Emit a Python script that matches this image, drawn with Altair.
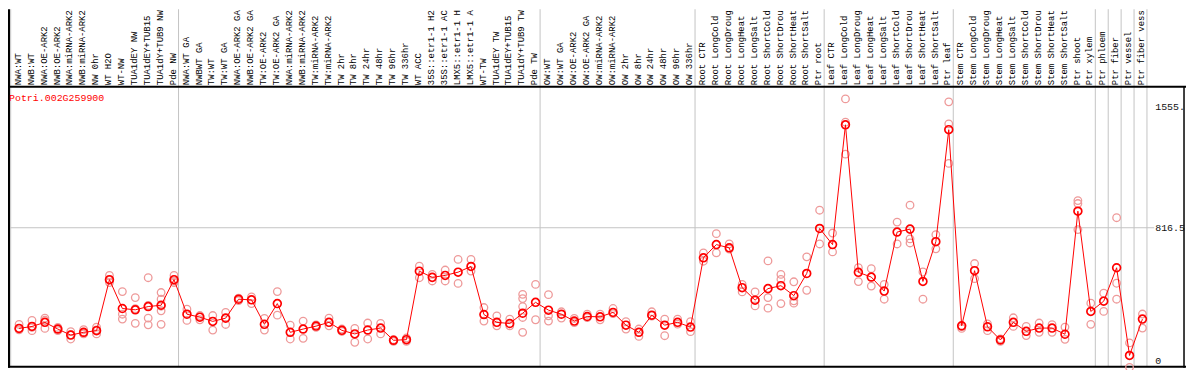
import altair as alt
import pandas as pd

labels = [
    "NWA:WT", "NWB:WT", "NWA:OE-ARK2", "NWB:OE-ARK2", "NWA:miRNA-ARK2", "NWB:miRNA-ARK2",
    "NW 0hr", "WT H2O", "WT-NW", "TUA1dEY NW", "TUA1dEY+TUB15", "TUA1dY+TUB9 NW", "Pde NW",
    "NWA:WT GA", "NWBWT GA", "TW:WT", "TW:WT GA", "NWA:OE-ARK2 GA", "NWB:OE-ARK2 GA",
    "TW:OE-ARK2", "TW:OE-ARK2 GA", "NWA:miRNA-ARK2", "NWB:miRNA-ARK2", "TW:miRNA-ARK2",
    "TW:miRNA-ARK2", "TW 2hr", "TW 8hr", "TW 24hr", "TW 48hr", "TW 96hr", "TW 336hr",
    "WT ACC", "35S::etr1-1 H2", "35S::etr1-1 AC", "LMX5::etr1-1 H", "LMX5::etr1-1 A",
    "WT-TW", "TUA1dEY TW", "TUA1dEY+TUB15", "TUA1dY+TUB9 TW", "Pde TW",
    "OW:WT", "OW:WT GA", "OW:OE-ARK2", "OW:OE-ARK2 GA", "OW:miRNA-ARK2", "OW:miRNA-ARK2",
    "OW 2hr", "OW 8hr", "OW 24hr", "OW 48hr", "OW 96hr", "OW 336hr",
    "Root CTR", "Root LongCold", "Root LongDroug", "Root LongHeat", "Root LongSalt",
    "Root ShortCold", "Root ShortDrou", "Root ShortHeat", "Root ShortSalt", "Ptr root",
    "Leaf CTR", "Leaf LongCold", "Leaf LongDroug", "Leaf LongHeat", "Leaf LongSalt",
    "Leaf ShortCold", "Leaf ShortDrou", "Leaf ShortHeat", "Leaf ShortSalt", "Ptr leaf",
    "Stem CTR", "Stem LongCold", "Stem LongDroug", "Stem LongHeat", "Stem LongSalt",
    "Stem ShortCold", "Stem ShortDrou", "Stem ShortHeat", "Stem ShortSalt", "Ptr shoot",
    "Ptr xylem", "Ptr phloem", "Ptr fiber", "Ptr vessel", "Ptr fiber vess",
]

means = [
    199, 211, 236, 195, 158, 175, 185, 498, 321, 313, 333, 341, 498,
    286, 268, 242, 262, 378, 374, 224, 351, 175, 195, 213, 236, 187, 165, 189, 201, 126, 130,
    550, 512, 524, 544, 579, 284, 236, 229, 292, 359,
    311, 286, 244, 272, 270, 297, 219, 175, 280, 219, 236, 207,
    632, 713, 693, 449, 372, 443, 461, 400, 536, 812,
    713, 1448, 543, 514, 428, 790, 808, 487, 731, 1418,
    215, 553, 209, 128, 236, 181, 201, 201, 163, 918,
    303, 366, 571, 33, 256,
]

reps = [
    [223, 199, 190], [248, 185, 205], [262, 199, 250], [205, 185, 195], [179, 134, 160],
    [191, 165, 170], [207, 165, 190], [524, 480, 495], [425, 286, 256], [388, 230, 320],
    [510, 262, 221, 340], [419, 378, 307, 335, 224], [524, 480, 490],
    [317, 248], [278, 252], [278, 189], [297, 223], [385, 370], [392, 351], [260, 189],
    [425, 280], [219, 134], [244, 138], [220, 205], [262, 215], [195, 180], [199, 114],
    [232, 134], [230, 165], [130, 120], [140, 120],
    [581, 510], [530, 490], [557, 490], [622, 475], [622, 551], [327, 244], [276, 215],
    [256, 215], [408, 382, 333, 266, 175], [469, 252],
    [406, 276, 244], [301, 262], [260, 235], [286, 265], [286, 252], [321, 290],
    [240, 195], [195, 150], [301, 275], [256, 154], [256, 225], [240, 179],
    [662, 611], [780, 662], [717, 685], [469, 423], [423, 337], [613, 388, 323],
    [530, 500, 351], [485, 368, 354], [638, 433], [924, 717],
    [784, 668], [1607, 1464, 1268], [571, 486], [565, 459], [469, 378], [851, 717],
    [955, 748, 723], [545, 378], [774, 687], [1589, 1454, 1211],
    [199, 210], [597, 504], [226, 185], [135, 120], [264, 211], [211, 155], [232, 175],
    [222, 175], [207, 132], [983, 965, 805],
    [354, 224], [415, 303], [878, 476, 378], [110, -40], [287, 201],
]

group_edges = [0, 13, 41, 53, 63, 73, 84, 85, 86, 87, 88]
grid_values = [816.5]
tick_values = [0, 816.5, 1555]
tick_text = ["0", "816.5", "1555."]
title_text = "Potri.002G259900"

FONT = "Liberation Mono"
RED = "#ff0000"
PINK = "#ee9a9a"
GRID = "#c4c4c4"

mean_df = pd.DataFrame({"i": list(range(len(labels))), "label": labels, "v": means})
rep_df = pd.DataFrame([{"i": i, "v": v} for i, rr in enumerate(reps) for v in rr])
edge_df = pd.DataFrame({"k": group_edges})
grid_df = pd.DataFrame({"v": grid_values})
tick_df = pd.DataFrame({"v": tick_values, "t": tick_text})
title_df = pd.DataFrame({"t": [title_text]})
frame_df = pd.DataFrame({"d": [0]})

xs = alt.Scale(domain=[0, 88], range=[2.7, 1146.7], nice=False, zero=False)
ys = alt.Scale(domain=[0, 816.5], range=[354, 220], nice=False, zero=False)

vgrid = alt.Chart(edge_df).mark_rule(color=GRID, strokeWidth=1).encode(
    x=alt.X("k:Q", scale=xs, axis=None), y=alt.value(0), y2=alt.value(360)
)
hgrid = alt.Chart(grid_df).mark_rule(color=GRID, strokeWidth=1).encode(
    y=alt.Y("v:Q", scale=ys, axis=None), x=alt.value(0), x2=alt.value(1154)
)
frame_top = alt.Chart(frame_df).mark_rule(color="black", strokeWidth=2).encode(
    x=alt.value(0), x2=alt.value(1186), y=alt.value(78)
)
frame_bottom = alt.Chart(frame_df).mark_rule(color="black", strokeWidth=2).encode(
    x=alt.value(0), x2=alt.value(1186), y=alt.value(360)
)
frame_left = alt.Chart(frame_df).mark_rule(color="black", strokeWidth=2).encode(
    x=alt.value(1), y=alt.value(0), y2=alt.value(361)
)
frame_right = alt.Chart(frame_df).mark_rule(color="black", strokeWidth=1.5).encode(
    x=alt.value(1184), y=alt.value(78), y2=alt.value(361)
)

label_text = alt.Chart(mean_df).transform_calculate(xl="datum.i + 0.55").mark_text(
    angle=270, align="left", baseline="middle", font=FONT, fontSize=9, color="black"
).encode(x=alt.X("xl:Q", scale=xs, axis=None), y=alt.value(76.5), text="label:N")

rep_pts = alt.Chart(rep_df).transform_calculate(xp="datum.i + 0.65").mark_point(
    shape="circle", filled=False, color=PINK, size=58, strokeWidth=1.3, opacity=1
).encode(x=alt.X("xp:Q", scale=xs, axis=None), y=alt.Y("v:Q", scale=ys, axis=None))

line = alt.Chart(mean_df).transform_calculate(xp="datum.i + 0.65").mark_line(
    color=RED, strokeWidth=1
).encode(x=alt.X("xp:Q", scale=xs, axis=None), y=alt.Y("v:Q", scale=ys, axis=None), order="i:Q")

mean_pts = alt.Chart(mean_df).transform_calculate(xp="datum.i + 0.65").mark_point(
    shape="circle", filled=False, color=RED, size=62, strokeWidth=1.7, opacity=1
).encode(x=alt.X("xp:Q", scale=xs, axis=None), y=alt.Y("v:Q", scale=ys, axis=None))

title = alt.Chart(title_df).mark_text(
    align="left", baseline="middle", font=FONT, fontSize=10, color=RED
).encode(x=alt.value(1), y=alt.value(89), text="t:N")

ticks = alt.Chart(tick_df).mark_text(
    align="left", baseline="middle", font=FONT, fontSize=10, color="#111111"
).encode(x=alt.value(1155), y=alt.Y("v:Q", scale=ys, axis=None), text="t:N")

chart = alt.layer(
    vgrid, hgrid, frame_top, frame_bottom, frame_left, frame_right,
    label_text, rep_pts, line, mean_pts, title, ticks
).properties(
    width=1186, height=362, padding=0,
    autosize=alt.AutoSizeParams(type="none"),
    background="white",
).configure_view(strokeWidth=0)

chart.save("out.html", embed_options={"renderer": "svg", "actions": False})
